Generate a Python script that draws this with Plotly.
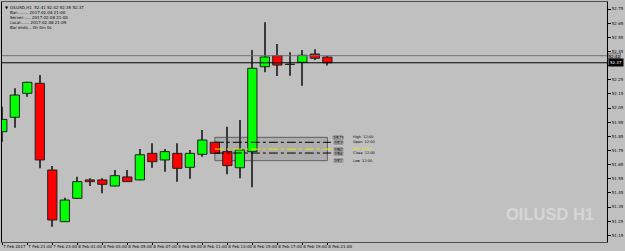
import plotly.graph_objects as go

# ---- data (OILUSD H1) ----
bar_index = list(range(27))
opens  = [51.883, 51.985, 52.154, 52.225, 51.612, 51.247, 51.412, 51.542, 51.542, 51.499,
          51.563, 51.542, 51.730, 51.683, 51.730, 51.631, 51.723, 51.808, 51.742, 51.628,
          51.742, 52.342, 52.420, 52.360, 52.373, 52.432, 52.410]
highs  = [52.060, 52.190, 52.236, 52.284, 51.640, 51.416, 51.565, 51.554, 51.554, 51.612,
          51.612, 51.761, 51.801, 51.761, 51.801, 51.754, 51.895, 51.812, 51.918, 51.966,
          52.460, 52.656, 52.503, 52.444, 52.460, 52.465, 52.420]
lows   = [51.812, 51.911, 52.130, 51.624, 51.211, 51.244, 51.409, 51.499, 51.448, 51.497,
          51.528, 51.540, 51.628, 51.600, 51.530, 51.551, 51.706, 51.727, 51.582, 51.554,
          51.490, 52.303, 52.277, 52.279, 52.208, 52.390, 52.350]
closes = [51.970, 52.142, 52.232, 51.683, 51.259, 51.400, 51.530, 51.530, 51.511, 51.572,
          51.530, 51.720, 51.671, 51.742, 51.624, 51.730, 51.824, 51.730, 51.643, 51.754,
          52.331, 52.411, 52.354, 52.358, 52.423, 52.402, 52.370]

tick_index = [0, 2, 4, 6, 8, 10, 12, 14, 16, 18, 20, 22, 24, 26]
tick_text = ["7 Feb 2017", "7 Feb 21:00", "7 Feb 23:00", "8 Feb 01:00", "8 Feb 03:00",
             "8 Feb 05:00", "8 Feb 07:00", "8 Feb 09:00", "8 Feb 11:00", "8 Feb 13:00",
             "8 Feb 15:00", "8 Feb 17:00", "8 Feb 19:00", "8 Feb 21:00"]
price_ticks = [52.75, 52.65, 52.55, 52.45, 52.35, 52.25, 52.15, 52.05, 51.95, 51.85,
               51.75, 51.65, 51.55, 51.45, 51.35, 51.25, 51.15]

ask_level = 52.42
bid_level = 52.37

# levels of the 12:00 bar box
box_start, box_end = 17, 26
level_names  = ["High", "Open", "Mid", "Close", "Low"]
level_values = [51.843, 51.808, 51.760, 51.732, 51.678]
level_colors = ["#000000", "#000000", "#e8e800", "#000000", "#000000"]

header_lines = ["OILUSD,H1  52.41 52.42 52.35 52.37",
                "Bar:........ 2017.02.08 21:00",
                "Server:..... 2017.02.08 21:00",
                "Local:...... 2017.02.08 21:09",
                "Bar ends... 0h 0m 0s"]

BG = "#c0c0c0"
GREEN = "#00ff00"
RED = "#ff0000"

body_lo = [min(o, c) for o, c in zip(opens, closes)]
body_h = [max(abs(c - o), 0.002) for o, c in zip(opens, closes)]
body_col = [GREEN if c > o else RED for o, c in zip(opens, closes)]

# the 52.35 label is hidden under the current-price box in the reference
price_tick_text = ["" if abs(p - 52.35) < 1e-9 else f"{p:.2f}" for p in price_ticks]

fig = go.Figure()
# wicks
fig.add_trace(go.Bar(x=bar_index, base=lows, y=[h - l for h, l in zip(highs, lows)],
                     width=0.09, marker=dict(color="#3a3a3a", line=dict(width=0)),
                     hoverinfo="skip"))
# bodies
fig.add_trace(go.Bar(x=bar_index, base=body_lo, y=body_h, width=0.74,
                     marker=dict(color=body_col, line=dict(color="#202020", width=1)),
                     hoverinfo="skip"))

shapes = []
# price lines
shapes.append(dict(type="line", xref="paper", x0=0, x1=1, yref="y", y0=ask_level, y1=ask_level,
                   line=dict(color="#707070", width=1)))
shapes.append(dict(type="line", xref="paper", x0=0, x1=1, yref="y", y0=bid_level, y1=bid_level,
                   line=dict(color="#000000", width=1)))
# 12:00 box
shapes.append(dict(type="rect", xref="x", x0=box_start, x1=box_end, yref="y",
                   y0=level_values[-1], y1=level_values[0], layer="below",
                   fillcolor="rgba(150,150,150,0.45)", line=dict(color="#606060", width=1)))
for v, c in zip(level_values[1:-1], level_colors[1:-1]):
    shapes.append(dict(type="line", xref="x", x0=box_start, x1=box_end + 0.3, yref="y", y0=v, y1=v,
                       line=dict(color=c, width=1, dash="dashdot")))

annotations = []
for name, v, c in zip(level_names, level_values, level_colors):
    annotations.append(dict(x=box_end + 0.85, y=v, xref="x", yref="y", text=f"{v:.2f}",
                            showarrow=False, font=dict(size=3.5, color="#ffffff", family="DejaVu Sans"),
                            bgcolor="#4a4a4a", bordercolor="#d0d0d0", borderwidth=0.5, borderpad=0))
    annotations.append(dict(x=box_end + 1.85, y=v, xref="x", yref="y", text=f"{name}  12:00",
                            xanchor="left", showarrow=False,
                            font=dict(size=3.5, color=c, family="DejaVu Sans")))
# right-axis price boxes
annotations.append(dict(x=1.0, y=ask_level, xref="paper", yref="y", text=f"{ask_level:.2f}",
                        xanchor="left", showarrow=False, xshift=1,
                        font=dict(size=4, color="#000000", family="DejaVu Sans"),
                        bgcolor="#a8a8a8", bordercolor="#606060", borderwidth=0.5, borderpad=0))
annotations.append(dict(x=1.0, y=bid_level, xref="paper", yref="y", text=f"{bid_level:.2f}",
                        xanchor="left", showarrow=False, xshift=1,
                        font=dict(size=4, color="#ffffff", family="DejaVu Sans"),
                        bgcolor="#000000", borderpad=1))
# header text
for k, line in enumerate(header_lines):
    annotations.append(dict(x=0.0, y=1.0, xref="paper", yref="paper", text=line,
                            xanchor="left", yanchor="top", showarrow=False,
                            xshift=6, yshift=-1 - 4.9 * k,
                            font=dict(size=4, color="#000000", family="DejaVu Sans")))
annotations.append(dict(x=0.0, y=1.0, xref="paper", yref="paper", text="▼",
                        xanchor="left", yanchor="top", showarrow=False, xshift=1, yshift=-1,
                        font=dict(size=4, color="#000000", family="DejaVu Sans")))
# watermark
annotations.append(dict(x=0.829, y=51.30, xref="paper", yref="y", text="<b>OILUSD H1</b>",
                        xanchor="left", yanchor="middle", showarrow=False,
                        font=dict(size=16.5, color="#d6d6d6", family="Liberation Sans")))

fig.update_layout(
    width=625, height=251,
    margin=dict(l=1, r=16, t=2, b=9),
    paper_bgcolor=BG, plot_bgcolor=BG,
    barmode="overlay", showlegend=False,
    shapes=shapes, annotations=annotations,
    xaxis=dict(range=[-0.024, 48.365], tickmode="array", tickvals=tick_index, ticktext=tick_text,
               tickangle=0, ticks="outside", ticklen=2, tickcolor="#000000",
               ticklabelposition="outside right",
               showgrid=False, zeroline=False, showline=True, linecolor="#505050", mirror=True,
               tickfont=dict(size=4, color="#000000", family="DejaVu Sans")),
    yaxis=dict(range=[51.1033, 52.7995], side="right", tickmode="array", tickvals=price_ticks,
               ticktext=price_tick_text,
               ticks="outside", ticklen=3, tickcolor="#000000",
               showgrid=False, zeroline=False, showline=True, linecolor="#000000", mirror=True,
               tickfont=dict(size=4, color="#000000", family="DejaVu Sans")),
)

fig.write_html("out.html")
